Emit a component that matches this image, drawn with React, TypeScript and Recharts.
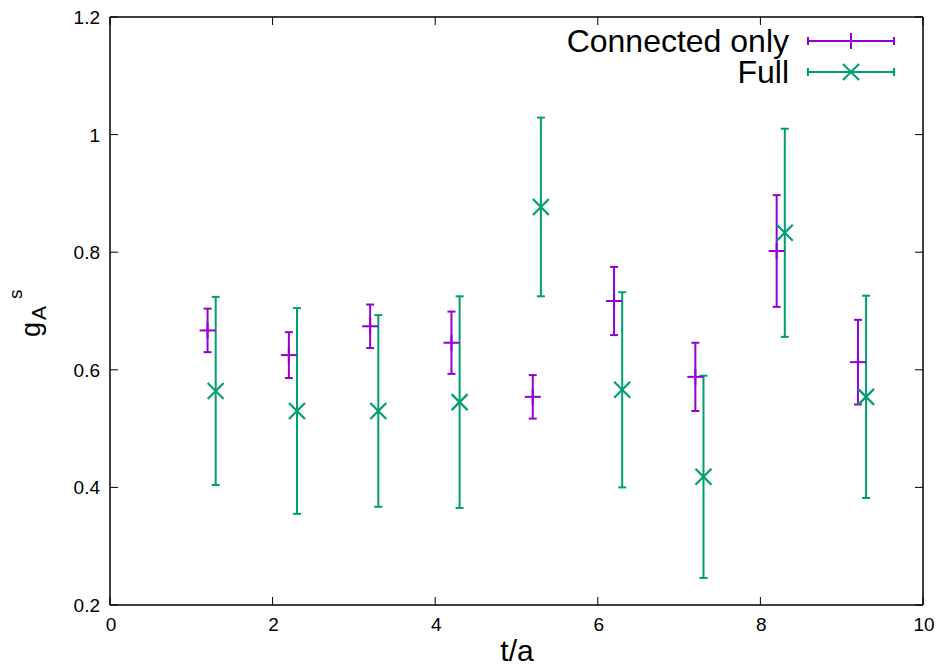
import { ScatterChart, Scatter, XAxis, YAxis, ErrorBar } from 'recharts';

// g_A^s per time slice, connected-only vs full (connected + disconnected)
const CONNECTED_T = [1.2, 2.2, 3.2, 4.2, 5.2, 6.2, 7.2, 8.2, 9.2];
const CONNECTED_VAL = [0.667, 0.625, 0.674, 0.646, 0.554, 0.717, 0.588, 0.802, 0.613];
const CONNECTED_ERR = [0.037, 0.039, 0.037, 0.053, 0.037, 0.058, 0.058, 0.095, 0.072];

const FULL_T = [1.3, 2.3, 3.3, 4.3, 5.3, 6.3, 7.3, 8.3, 9.3];
const FULL_VAL = [0.564, 0.53, 0.53, 0.545, 0.877, 0.566, 0.418, 0.833, 0.554];
const FULL_ERR = [0.16, 0.175, 0.163, 0.18, 0.152, 0.166, 0.172, 0.177, 0.172];

const X_TICKS = [0, 2, 4, 6, 8, 10];
const Y_TICKS = [0.2, 0.4, 0.6, 0.8, 1.0, 1.2];

const PURPLE = '#9400d3';
const GREEN = '#009e73';
const FONT = '"Liberation Sans", Arial, Helvetica, sans-serif';

if (typeof document !== 'undefined') document.body.style.margin = '0';

const connected = CONNECTED_T.map((t, i) => ({ t, v: CONNECTED_VAL[i], err: CONNECTED_ERR[i] }));
const full = FULL_T.map((t, i) => ({ t, v: FULL_VAL[i], err: FULL_ERR[i] }));

const TICK_LEN = 8;
const TICK_FONT = 19;

function PlusMark({ cx, cy, color }: any) {
  const r = 8;
  return (
    <g stroke={color} strokeWidth={2}>
      <line x1={cx - r} y1={cy} x2={cx + r} y2={cy} />
      <line x1={cx} y1={cy - r} x2={cx} y2={cy + r} />
    </g>
  );
}

function CrossMark({ cx, cy, color }: any) {
  const r = 8;
  return (
    <g stroke={color} strokeWidth={2.2}>
      <line x1={cx - r} y1={cy - r} x2={cx + r} y2={cy + r} />
      <line x1={cx - r} y1={cy + r} x2={cx + r} y2={cy - r} />
    </g>
  );
}

// gnuplot-style inward ticks, mirrored on top/right
const BottomTick = ({ x, y, payload }: any) => (
  <g>
    <line x1={x} y1={y} x2={x} y2={y - TICK_LEN} stroke="#000" strokeWidth={1} />
    <text x={x + 1} y={y + 26} textAnchor="middle" fontSize={TICK_FONT} fontFamily={FONT} fill="#000">
      {payload.value}
    </text>
  </g>
);

const TopTick = ({ x, y }: any) => (
  <line x1={x} y1={y} x2={x} y2={y + TICK_LEN} stroke="#000" strokeWidth={1} />
);

const LeftTick = ({ x, y, payload }: any) => (
  <g>
    <line x1={x} y1={y} x2={x + TICK_LEN} y2={y} stroke="#000" strokeWidth={1} />
    <text x={x - 10} y={y + 7} textAnchor="end" fontSize={TICK_FONT} fontFamily={FONT} fill="#000">
      {Number(payload.value.toFixed(1)).toString()}
    </text>
  </g>
);

const RightTick = ({ x, y }: any) => (
  <line x1={x} y1={y} x2={x - TICK_LEN} y2={y} stroke="#000" strokeWidth={1} />
);

function LegendRow({ y, label, color, cross }: any) {
  const x1 = 808;
  const x2 = 894;
  const mid = (x1 + x2) / 2;
  return (
    <g>
      <text x={789} y={y + 11} textAnchor="end" fontSize={32} fontFamily={FONT} fill="#000">
        {label}
      </text>
      <g stroke={color} strokeWidth={2}>
        <line x1={x1} y1={y} x2={x2} y2={y} />
        <line x1={x1} y1={y - 4} x2={x1} y2={y + 4} />
        <line x1={x2} y1={y - 4} x2={x2} y2={y + 4} />
      </g>
      {cross ? <CrossMark cx={mid} cy={y} color={color} /> : <PlusMark cx={mid} cy={y} color={color} />}
    </g>
  );
}

const axisLine = { stroke: '#000', strokeWidth: 1.5 };

export default function App() {
  return (
    <div style={{ position: 'relative', width: 940, height: 668, background: '#fff' }}>
      <ScatterChart width={940} height={668} margin={{ top: 16, right: 16, bottom: 0, left: 0 }}>
        <XAxis
          xAxisId="b"
          type="number"
          dataKey="t"
          domain={[0, 10]}
          ticks={X_TICKS}
          allowDataOverflow
          orientation="bottom"
          height={63}
          tickSize={0}
          tickMargin={0}
          tickLine={false}
          tick={<BottomTick />}
          axisLine={axisLine}
        />
        <XAxis
          xAxisId="top"
          type="number"
          dataKey="t"
          domain={[0, 10]}
          ticks={X_TICKS}
          allowDataOverflow
          orientation="top"
          height={1}
          tickSize={0}
          tickMargin={0}
          tickLine={false}
          tick={<TopTick />}
          axisLine={axisLine}
        />
        <YAxis
          yAxisId="l"
          type="number"
          dataKey="v"
          domain={[0.2, 1.2]}
          ticks={Y_TICKS}
          allowDataOverflow
          orientation="left"
          width={110}
          tickSize={0}
          tickMargin={0}
          tickLine={false}
          tick={<LeftTick />}
          axisLine={axisLine}
        />
        <YAxis
          yAxisId="r"
          type="number"
          dataKey="v"
          domain={[0.2, 1.2]}
          ticks={Y_TICKS}
          allowDataOverflow
          orientation="right"
          width={1}
          tickSize={0}
          tickMargin={0}
          tickLine={false}
          tick={<RightTick />}
          axisLine={axisLine}
        />
        <Scatter
          name="Connected only"
          data={connected}
          xAxisId="b"
          yAxisId="l"
          isAnimationActive={false}
          shape={(p: any) => <PlusMark cx={p.cx} cy={p.cy} color={PURPLE} />}
        >
          <ErrorBar dataKey="err" direction="y" width={4} stroke={PURPLE} strokeWidth={2} isAnimationActive={false} />
        </Scatter>
        <Scatter
          name="Full"
          data={full}
          xAxisId="b"
          yAxisId="l"
          isAnimationActive={false}
          shape={(p: any) => <CrossMark cx={p.cx} cy={p.cy} color={GREEN} />}
        >
          <ErrorBar dataKey="err" direction="y" width={4} stroke={GREEN} strokeWidth={2} isAnimationActive={false} />
        </Scatter>
      </ScatterChart>
      <svg
        width={940}
        height={668}
        style={{ position: 'absolute', left: 0, top: 0, pointerEvents: 'none' }}
      >
        <LegendRow y={41} label="Connected only" color={PURPLE} />
        <LegendRow y={72} label="Full" color={GREEN} cross />
        <text x={517} y={661} textAnchor="middle" fontSize={30} fontFamily={FONT} fill="#000">
          t/a
        </text>
        <text transform="rotate(-90)" fontFamily={FONT} fill="#000">
          <tspan x={-337} y={40} fontSize={27}>g</tspan>
          <tspan x={-320} y={46} fontSize={21}>A</tspan>
          <tspan x={-299} y={22} fontSize={19}>s</tspan>
        </text>
      </svg>
    </div>
  );
}
